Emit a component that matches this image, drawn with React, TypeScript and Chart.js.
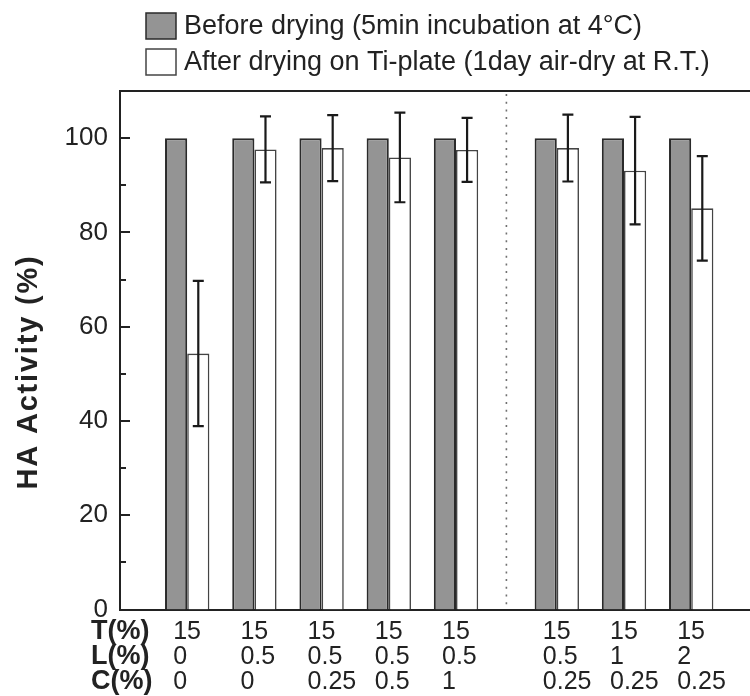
import React, { useEffect, useRef } from 'react';
import { Chart, registerables } from 'chart.js';

Chart.register(...registerables);

// ---- data ----
const positions = [1, 2, 3, 4, 5, 6.5, 7.5, 8.5];
const tValues = ['15', '15', '15', '15', '15', '15', '15', '15'];
const lValues = ['0', '0.5', '0.5', '0.5', '0.5', '0.5', '1', '2'];
const cValues = ['0', '0', '0.25', '0.5', '1', '0.25', '0.25', '0.25'];
const rowLabels = ['T(%)', 'L(%)', 'C(%)'];
const beforeValues = [100, 100, 100, 100, 100, 100, 100, 100];
const afterValues = [54.3, 97.6, 97.9, 95.9, 97.5, 97.9, 93.1, 85.1];
const afterErrors = [15.4, 7.0, 7.0, 9.5, 6.8, 7.1, 11.4, 11.1];
const seriesLabels = [
  'Before drying (5min incubation at 4°C)',
  'After drying on Ti-plate (1day air-dry at R.T.)',
];
const yAxisTitle = 'HA Activity (%)';
const dividerPosition = 5.75;
const xMin = 0;
const xMax = 9.375;
const yMin = 0;
const yMax = 110;

const FAMILY = '"Liberation Sans", Arial, Helvetica, sans-serif';
const GRAY = '#949494';
const INK = '#222222';
const X_LINE_H = 25;
const X_PAD = 10;

const decorPlugin = {
  id: 'decor',
  afterDatasetsDraw(chart: any) {
    const ctx = chart.ctx;
    const xs = chart.scales.x;
    const ys = chart.scales.y;
    const area = chart.chartArea;
    ctx.save();
    // divider dotted line
    const dx = xs.getPixelForValue(dividerPosition);
    ctx.strokeStyle = '#707070';
    ctx.lineWidth = 1.6;
    ctx.setLineDash([2, 5.7]);
    ctx.beginPath();
    ctx.moveTo(dx, area.top + 3);
    ctx.lineTo(dx, area.bottom);
    ctx.stroke();
    ctx.setLineDash([]);
    // error bars
    const meta = chart.getDatasetMeta(1);
    ctx.strokeStyle = '#1a1a1a';
    ctx.lineWidth = 2.2;
    meta.data.forEach((bar: any, i: number) => {
      const px = bar.x;
      const top = ys.getPixelForValue(afterValues[i] + afterErrors[i]);
      const bot = ys.getPixelForValue(afterValues[i] - afterErrors[i]);
      ctx.beginPath();
      ctx.moveTo(px, top);
      ctx.lineTo(px, bot);
      ctx.moveTo(px - 5.5, top);
      ctx.lineTo(px + 5.5, top);
      ctx.moveTo(px - 5.5, bot);
      ctx.lineTo(px + 5.5, bot);
      ctx.stroke();
    });
    ctx.restore();
  },
  afterDraw(chart: any) {
    const ctx = chart.ctx;
    const xs = chart.scales.x;
    const ys = chart.scales.y;
    const area = chart.chartArea;
    ctx.save();
    // inward y ticks
    ctx.strokeStyle = INK;
    ctx.lineWidth = 2;
    ys.ticks.forEach((t: any) => {
      if (t.value <= yMin || t.value >= yMax) return;
      const py = Math.round(ys.getPixelForValue(t.value));
      const len = t.value % 20 === 0 ? 10 : 6;
      ctx.beginPath();
      ctx.moveTo(area.left, py);
      ctx.lineTo(area.left + len, py);
      ctx.stroke();
    });
    // row labels for the x axis
    ctx.fillStyle = INK;
    ctx.font = `bold 27px ${FAMILY}`;
    ctx.textAlign = 'left';
    ctx.textBaseline = 'middle';
    rowLabels.forEach((lab, i) => {
      ctx.fillText(lab, 91, xs.top + X_PAD + X_LINE_H / 2 + i * X_LINE_H);
    });
    // y axis title
    ctx.save();
    ctx.translate(29, 372);
    ctx.rotate(-Math.PI / 2);
    ctx.font = `bold 29px ${FAMILY}`;
    (ctx as any).letterSpacing = '1.8px';
    ctx.textAlign = 'center';
    ctx.textBaseline = 'middle';
    ctx.fillText(yAxisTitle, 0, 0);
    ctx.restore();
    // legend
    const ds = chart.data.datasets;
    const rows = [26, 62];
    ds.forEach((d: any, i: number) => {
      const cy = rows[i];
      ctx.fillStyle = d.backgroundColor;
      ctx.fillRect(146, cy - 13, 30, 26);
      ctx.strokeStyle = d.borderColor;
      ctx.lineWidth = 1.5;
      ctx.strokeRect(146, cy - 13, 30, 26);
      ctx.fillStyle = INK;
      ctx.font = `27px ${FAMILY}`;
      (ctx as any).letterSpacing = '0px';
      ctx.textAlign = 'left';
      ctx.textBaseline = 'middle';
      ctx.fillText(d.label, 184, cy + 1);
    });
    ctx.restore();
  },
};

export default function App() {
  const ref = useRef<HTMLCanvasElement | null>(null);
  useEffect(() => {
    if (!ref.current) return;
    const chart = new Chart(ref.current, {
      type: 'bar',
      data: {
        datasets: [
          {
            label: seriesLabels[0],
            data: positions.map((p, i) => ({ x: p, y: beforeValues[i] })),
            backgroundColor: GRAY,
            borderColor: '#2a2a2a',
            borderWidth: 2,
            categoryPercentage: 0.66,
            barPercentage: 1,
            xAxisID: 'x',
          },
          {
            label: seriesLabels[1],
            data: positions.map((p, i) => ({ x: p, y: afterValues[i] })),
            backgroundColor: '#ffffff',
            borderColor: '#444444',
            borderWidth: 1.6,
            categoryPercentage: 0.66,
            barPercentage: 1,
            xAxisID: 'x',
          },
        ],
      },
      options: {
        responsive: false,
        animation: false,
        devicePixelRatio: 1,
        layout: { padding: 0 },
        plugins: {
          legend: { display: false },
          tooltip: { enabled: false },
          title: { display: false },
        },
        scales: {
          x: {
            type: 'linear',
            position: 'bottom',
            min: xMin,
            max: xMax,
            offset: false,
            grid: { display: false, drawTicks: false },
            border: { display: true, color: INK, width: 2 },
            afterBuildTicks: (s: any) => {
              s.ticks = positions.map((v) => ({ value: v }));
            },
            ticks: {
              autoSkip: false,
              maxRotation: 0,
              minRotation: 0,
              align: 'start',
              labelOffset: -14,
              padding: X_PAD,
              color: INK,
              font: { family: FAMILY, size: 25, lineHeight: X_LINE_H / 25 },
              callback: (_v: any, i: number) => [tValues[i], lValues[i], cValues[i]],
            },
            afterFit: (s: any) => {
              s.height = 86.5;
            },
          },
          x2: {
            type: 'linear',
            position: 'top',
            min: xMin,
            max: xMax,
            grid: { display: false, drawTicks: false },
            ticks: { display: false },
            border: { display: true, color: INK, width: 2 },
            afterFit: (s: any) => {
              s.height = 91;
            },
          },
          y: {
            min: yMin,
            max: yMax,
            grid: { display: false, drawTicks: false },
            border: { display: true, color: INK, width: 2 },
            ticks: {
              stepSize: 10,
              padding: 12,
              color: INK,
              font: { family: FAMILY, size: 26 },
              callback: (v: any) => (Number(v) % 20 === 0 ? String(v) : ''),
            },
            afterFit: (s: any) => {
              s.width = 120;
            },
          },
        },
      } as any,
      plugins: [decorPlugin],
    });
    return () => chart.destroy();
  }, []);
  return (
    <div style={{ position: 'absolute', left: 0, top: 0, width: 750, height: 696, background: '#fff' }}>
      <canvas ref={ref} width={750} height={696} style={{ display: 'block' }} />
    </div>
  );
}
